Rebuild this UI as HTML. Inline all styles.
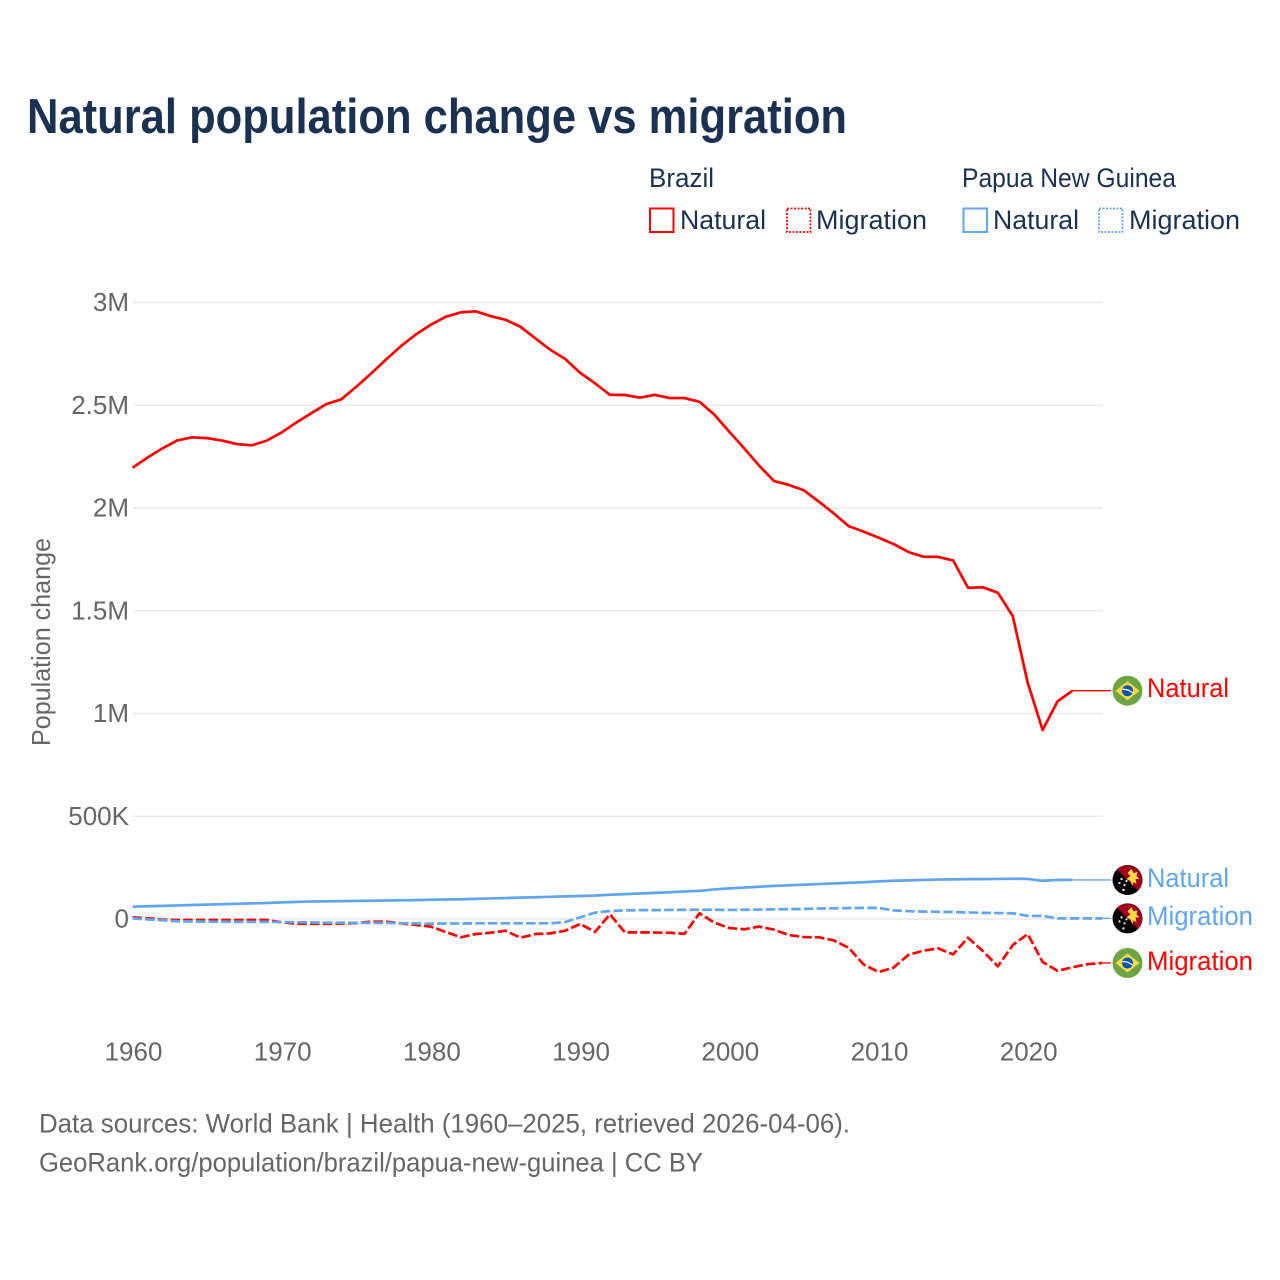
<!DOCTYPE html>
<html lang="en">
<head>
<meta charset="utf-8">
<title>Natural population change vs migration</title>
<style>
html,body{margin:0;padding:0;background:#fff;width:1280px;height:1280px;overflow:hidden}
svg{display:block}
text{font-family:"Liberation Sans",sans-serif}
.tick{font-size:26px;fill:#666}
.leg{font-size:27px;fill:#1a3152}
.foot{font-size:27px;fill:#666}
.lab{font-size:27px}
</style>
</head>
<body>
<svg id="chart" xmlns="http://www.w3.org/2000/svg" width="1280" height="1280" viewBox="0 0 1280 1280">
<rect width="1280" height="1280" fill="#fff"/>
<text x="27" y="133" font-size="49" font-weight="700" fill="#1a3152" textLength="820" lengthAdjust="spacingAndGlyphs">Natural population change vs migration</text>

<g>
<text class="leg" x="649" y="187" textLength="65" lengthAdjust="spacingAndGlyphs">Brazil</text>
<text class="leg" x="962" y="187" textLength="214" lengthAdjust="spacingAndGlyphs">Papua New Guinea</text>
<g>
<rect x="650" y="208.500" width="23.500" height="23.500" fill="none" stroke="#ff0000" stroke-width="2"/>
<text class="leg" x="680" y="229" textLength="86" lengthAdjust="spacingAndGlyphs">Natural</text>
</g>
<g>
<rect x="787" y="208.500" width="23.500" height="23.500" fill="none" stroke="#ff0000" stroke-width="1.800" stroke-dasharray="2 1.500"/>
<text class="leg" x="816" y="229" textLength="111" lengthAdjust="spacingAndGlyphs">Migration</text>
</g>
<g>
<rect x="963.500" y="208.500" width="23.500" height="23.500" fill="none" stroke="#60a5ee" stroke-width="2"/>
<text class="leg" x="993" y="229" textLength="86" lengthAdjust="spacingAndGlyphs">Natural</text>
</g>
<g>
<rect x="1099" y="208.500" width="23.500" height="23.500" fill="none" stroke="#60a5ee" stroke-width="1.800" stroke-dasharray="2 1.500"/>
<text class="leg" x="1129" y="229" textLength="111" lengthAdjust="spacingAndGlyphs">Migration</text>
</g>
</g>

<text class="tick" transform="translate(50,746) rotate(-90)" x="0" y="0" textLength="208" lengthAdjust="spacingAndGlyphs">Population change</text>

<g id="grid"></g>
<g id="yaxis"></g>
<g id="xaxis"></g>
<g id="series"></g>
<g id="ends"></g>

<text class="foot" x="39" y="1132.500" textLength="811" lengthAdjust="spacingAndGlyphs">Data sources: World Bank | Health (1960–2025, retrieved 2026-04-06).</text>
<text class="foot" x="39" y="1171.500" textLength="664" lengthAdjust="spacingAndGlyphs">GeoRank.org/population/brazil/papua-new-guinea | CC BY</text>
</svg>

<script>
var startYear = 1960;
var xTickYears = [1960, 1970, 1980, 1990, 2000, 2010, 2020];
var yTickValues = [0, 500000, 1000000, 1500000, 2000000, 2500000, 3000000];
var yTickLabels = ['0', '500K', '1M', '1.5M', '2M', '2.5M', '3M'];

// Values in thousands, one per year from 1960. Natural series stop at 2023.
var brazilNatural = [2196,2245,2290,2329,2344,2340,2328,2311,2305,2328,
  2368,2417,2462,2506,2529,2590,2655,2723,2788,2845,
  2892,2931,2952,2957,2934,2916,2882,2826,2770,2725,
  2658,2607,2551,2550,2537,2551,2535,2535,2517,2454,
  2371,2290,2206,2131,2112,2086,2031,1974,1912,1885,
  1856,1825,1786,1763,1762,1745,1612,1614,1588,1474,
  1150,920,1059,1111];
var brazilMigration = [8,3,-3,-5,-5,-5,-5,-5,-5,-5,
  -16,-23,-23,-23,-22,-20,-13,-13,-21,-29,
  -37,-63,-89,-73,-67,-57,-91,-73,-70,-57,
  -24,-63,23,-65,-65,-66,-67,-72,28,-18,
  -44,-50,-37,-52,-78,-88,-89,-104,-140,-221,
  -258,-237,-175,-154,-143,-172,-91,-156,-230,-127,
  -73,-209,-252,-235,-220,-214];
var pngNatural = [60,62,64,66,68,70,72,74,76,78,
  81,83,85,86,87,88,89,90,91,92,
  94,95,96,98,100,102,104,106,108,110,
  112,114,118,121,124,127,130,134,137,144,
  149,153,157,161,164,167,170,173,176,179,
  183,186,188,190,192,193,194,194,195,196,
  195,186,190,190];
var pngMigration = [3,-2,-6,-11,-12,-13,-13,-14,-14,-14,
  -15,-16,-17,-18,-18,-19,-19,-19,-20,-22,
  -23,-22,-22,-21,-21,-21,-21,-21,-21,-15,
  8,31,39,42,43,43,44,45,45,45,
  44,45,46,47,48,49,51,52,53,54,
  54,42,38,36,35,34,32,30,29,28,
  15,15,3,3,3,3];

var svgNS = 'http://www.w3.org/2000/svg';
function xScale(year) { return 132.500 + (year - startYear) * 14.92; }
function yScale(value) { return 919 - value * 0.0002055; }

var gridG = document.getElementById('grid');
var yAxisG = document.getElementById('yaxis');
var xAxisG = document.getElementById('xaxis');
var seriesG = document.getElementById('series');
var endsG = document.getElementById('ends');

yTickValues.forEach(function (v, i) {
  var line = document.createElementNS(svgNS, 'line');
  
  
  line.setAttribute('x1', 133);
  line.setAttribute('x2', 1103);
  line.setAttribute('y1', yScale(v));
  line.setAttribute('y2', yScale(v));
  line.setAttribute('stroke', '#e9e9e9');
  line.setAttribute('stroke-width', '1.5');
  gridG.appendChild(line);
  var t = document.createElementNS(svgNS, 'text');
  
  
  t.setAttribute('class', 'tick');
  t.setAttribute('x', 129);
  t.setAttribute('y', yScale(v) + 8.500);
  t.setAttribute('text-anchor', 'end');
  t.textContent = yTickLabels[i];
  yAxisG.appendChild(t);
});

xTickYears.forEach(function (yr) {
  var t = document.createElementNS(svgNS, 'text');
  
  
  t.setAttribute('class', 'tick');
  t.setAttribute('x', xScale(yr) + 1);
  t.setAttribute('y', 1060.500);
  t.setAttribute('text-anchor', 'middle');
  t.textContent = String(yr);
  xAxisG.appendChild(t);
});

function drawSeries(values, color, dashed, seriesName) {
  var pts = values.map(function (v, i) {
    return xScale(startYear + i).toFixed(2) + ',' + yScale(v * 1000).toFixed(2);
  }).join(' ');
  var pl = document.createElementNS(svgNS, 'polyline');
  
  
  pl.setAttribute('points', pts);
  pl.setAttribute('fill', 'none');
  pl.setAttribute('stroke', color);
  pl.setAttribute('stroke-width', '2.700');
  pl.setAttribute('stroke-linejoin', 'round');
  if (dashed) pl.setAttribute('stroke-dasharray', '9.5 3.2');
  seriesG.appendChild(pl);
}

function drawFlag(kind, cy, flagName) {
  var g = document.createElementNS(svgNS, 'g');
  
  
  g.setAttribute('transform', 'translate(1127.500,' + cy + ')');
  if (kind === 'brazil') {
    g.innerHTML = '<circle r="15" fill="#6da544"/>' +
      '<polygon points="-12,0 0,-9.500 12,0 0,9.500" fill="#ffda44"/>' +
      '<circle r="5.500" fill="#0052b4"/>' +
      '<path d="M-5.200,-1.300 Q0,-2 5.200,2.200" fill="none" stroke="#f0f0f0" stroke-width="1.300"/>';
  } else {
    g.innerHTML = '<circle r="15" fill="#000"/>' +
      '<path d="M-10.600,-10.600 A15,15 0 0 1 10.600,10.600 Z" fill="#a2001d"/>' +
      '<path d="M0,-7 L4,-11 L6,-7 L10,-8 L9,-4 L12,-1 L8,-1 L9,4 L6,2 L5,6 L3,1 L-1,-1 L3,-4 Z" fill="#ffda44"/>' +
      '<circle cx="-6" cy="-1" r="1.100" fill="#f0f0f0"/><circle cx="-1" cy="1" r="1.100" fill="#f0f0f0"/>' +
      '<circle cx="-8" cy="3" r="1.100" fill="#f0f0f0"/><circle cx="-3" cy="5" r="1.100" fill="#f0f0f0"/>' +
      '<circle cx="-4" cy="10" r="1.200" fill="#f0f0f0"/>';
  }
  endsG.appendChild(g);
}

function drawEnd(values, color, label, labelWidth, labelDy, kind, seriesName) {
  var last = values.length - 1;
  var yEnd = yScale(values[last] * 1000);
  var conn = document.createElementNS(svgNS, 'line');
  
  
  conn.setAttribute('x1', xScale(startYear + last));
  conn.setAttribute('x2', 1111);
  conn.setAttribute('y1', yEnd);
  conn.setAttribute('y2', yEnd);
  conn.setAttribute('stroke', color);
  conn.setAttribute('stroke-width', '1.300');
  endsG.appendChild(conn);
  var cy = yEnd.toFixed(1);
  drawFlag(kind, cy, seriesName + '-flag');
  var t = document.createElementNS(svgNS, 'text');
  
  
  t.setAttribute('class', 'lab');
  t.setAttribute('x', 1147);
  t.setAttribute('y', yEnd + labelDy);
  t.setAttribute('fill', color);
  t.setAttribute('textLength', labelWidth);
  t.setAttribute('lengthAdjust', 'spacingAndGlyphs');
  t.textContent = label;
  endsG.appendChild(t);
}

drawSeries(brazilNatural, '#ff0000', false, 'brazil-natural');
drawSeries(brazilMigration, '#ff0000', true, 'brazil-migration');
drawSeries(pngNatural, '#60a5ee', false, 'png-natural');
drawSeries(pngMigration, '#60a5ee', true, 'png-migration');

drawEnd(brazilNatural, '#ff0000', 'Natural', 82, 6.500, 'brazil', 'brazil-natural');
drawEnd(pngNatural, '#60a5ee', 'Natural', 82, 7, 'png', 'png-natural');
drawEnd(pngMigration, '#60a5ee', 'Migration', 106, 6.700, 'png', 'png-migration');
drawEnd(brazilMigration, '#ff0000', 'Migration', 106, 7, 'brazil', 'brazil-migration');
</script>
</body>
</html>
